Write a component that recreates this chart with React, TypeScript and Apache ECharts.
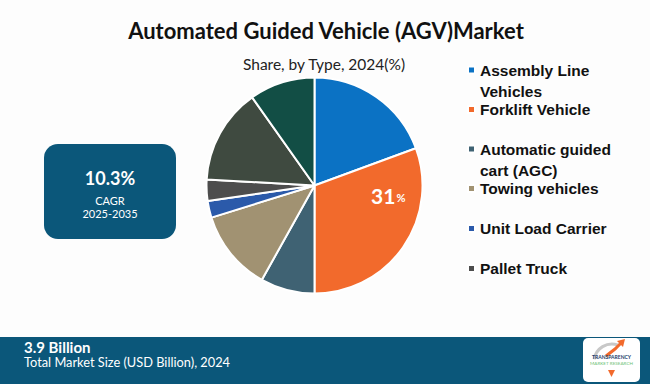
import React, { useEffect, useRef } from "react";
import * as echarts from "echarts";

const categories = [
  "Assembly Line Vehicles",
  "Forklift Vehicle",
  "Automatic guided cart (AGC)",
  "Towing vehicles",
  "Unit Load Carrier",
  "Pallet Truck",
  "Others A",
  "Others B",
];
const shares = [19.4, 30.6, 8.1, 12.1, 2.5, 3.2, 14.3, 9.8];
const colors = ["#0b72c4", "#f26a2c", "#3f6273", "#a19272", "#2b5aaa", "#4d4d4d", "#3f4a40", "#124e45"];
const legendLines = [
  ["Assembly Line", "Vehicles"],
  ["Forklift Vehicle"],
  ["Automatic guided", "cart (AGC)"],
  ["Towing vehicles"],
  ["Unit Load Carrier"],
  ["Pallet Truck"],
];
const legendCenters = [71.5, 111, 150.5, 190, 230, 270];
const labeledIndex = 1;

const titleText = "Automated Guided Vehicle (AGV)Market";
const subtitleText = "Share, by Type, 2024(%)";
const cagrValue = "10.3%";
const cagrLabel = "CAGR";
const cagrPeriod = "2025-2035";
const totalValue = "3.9 Billion";
const totalLabel = "Total Market Size (USD Billion), 2024";

const FONT = "Lato, 'Open Sans', sans-serif";
const LEGEND_FONT = "'Liberation Sans', Arial, sans-serif";
const LH_SMALL = 17;
const LH_FIRST = 26;

export default function App() {
  const ref = useRef<HTMLDivElement>(null);
  useEffect(() => {
    if (!ref.current) return;
    const chart = echarts.init(ref.current, null, { renderer: "svg" });
    const base = { fontFamily: LEGEND_FONT, fontSize: 15.5, fontWeight: "bold", color: "#111111" };
    const legends = legendLines.map((lines, i) => {
      const two = lines.length === 2;
      const half = two ? (LH_SMALL * 2 + LH_FIRST) / 2 : LH_SMALL / 2;
      return {
        orient: "vertical",
        left: 467,
        top: legendCenters[i] - 1.5 - half,
        padding: 0,
        itemWidth: 7,
        itemHeight: 7,
        itemGap: 8,
        icon: "rect",
        selectedMode: false,
        data: [categories[i]],
        formatter: () =>
          two ? `{e| }\n{a|${lines[0]}}\n{b|${lines[1]}}` : `{s|${lines[0]}}`,
        textStyle: {
          ...base,
          lineHeight: LH_SMALL,
          rich: {
            e: { ...base, lineHeight: LH_SMALL },
            a: { ...base, lineHeight: LH_FIRST },
            b: { ...base, lineHeight: LH_SMALL },
            s: { ...base, lineHeight: LH_SMALL },
          },
        },
      };
    });
    const band = "#0b577a";
    chart.setOption({
      animation: false,
      backgroundColor: "#fdfdfd",
      title: [
        {
          text: titleText,
          left: 321,
          textAlign: "center",
          top: 14,
          textStyle: { fontFamily: FONT, fontSize: 22, fontWeight: "bold", color: "#111111" },
        },
        {
          text: subtitleText,
          left: 319,
          textAlign: "center",
          top: 51,
          textStyle: { fontFamily: FONT, fontSize: 15.5, fontWeight: "normal", color: "#222222" },
        },
      ],
      legend: legends,
      series: [
        {
          type: "pie",
          center: [314.5, 185.5],
          radius: 108,
          startAngle: 90,
          clockwise: true,
          silent: true,
          itemStyle: { borderColor: "#ffffff", borderWidth: 2 },
          label: { show: false },
          labelLine: { show: false },
          labelLayout: { dx: 27, dy: -23 },
          data: categories.map((name, i) => ({
            name,
            value: shares[i],
            itemStyle: { color: colors[i] },
            label:
              i === labeledIndex
                ? {
                    show: true,
                    position: "inside",
                    formatter: (p: any) => `{a|${Math.round(p.value)}}{b|%}`,
                    rich: {
                      a: { fontFamily: FONT, fontSize: 21, fontWeight: "bold", color: "#ffffff" },
                      b: { fontFamily: FONT, fontSize: 11, fontWeight: "bold", color: "#ffffff", padding: [5, 0, 0, 1] },
                    },
                  }
                : { show: false },
          })),
        },
      ],
      graphic: [
        {
          type: "rect",
          shape: { x: 44, y: 144, width: 132, height: 95, r: 14 },
          style: { fill: band },
        },
        {
          type: "text",
          x: 110,
          y: 178,
          style: { text: cagrValue, fill: "#ffffff", font: `bold 18px ${FONT}`, align: "center", verticalAlign: "middle" },
        },
        {
          type: "text",
          x: 110,
          y: 200,
          style: { text: cagrLabel, fill: "#ffffff", font: `11px ${FONT}`, align: "center", verticalAlign: "middle" },
        },
        {
          type: "text",
          x: 110,
          y: 213,
          style: { text: cagrPeriod, fill: "#ffffff", font: `11px ${FONT}`, align: "center", verticalAlign: "middle" },
        },
        {
          type: "rect",
          shape: { x: 0, y: 337, width: 650, height: 47 },
          style: { fill: band },
        },
        {
          type: "text",
          x: 24,
          y: 346.5,
          style: { text: totalValue, fill: "#ffffff", font: `bold 15px ${FONT}`, align: "left", verticalAlign: "middle" },
        },
        {
          type: "text",
          x: 24,
          y: 362,
          style: { text: totalLabel, fill: "#ffffff", font: `12.8px ${FONT}`, align: "left", verticalAlign: "middle" },
        },
        {
          type: "rect",
          shape: { x: 583, y: 338, width: 57, height: 44, r: 5 },
          style: { fill: "#ffffff" },
        },
        {
          type: "arc",
          shape: { cx: 612, cy: 362, r: 18, startAngle: Math.PI * 1.05, endAngle: Math.PI * 1.6 },
          style: { stroke: "#c8c8c8", lineWidth: 3, fill: "none" },
        },
        {
          type: "polyline",
          shape: { points: [[606, 356], [615, 349], [621, 343]] },
          style: { stroke: "#f26a2c", lineWidth: 3, fill: "none" },
        },
        {
          type: "polygon",
          shape: { points: [[617, 341], [625, 339], [623, 347]] },
          style: { fill: "#f26a2c" },
        },
        {
          type: "text",
          x: 611.5,
          y: 357,
          style: { text: "TRANSPARENCY", fill: "#1b3d6b", font: `bold 5px ${FONT}`, align: "center", verticalAlign: "middle" },
        },
        {
          type: "text",
          x: 611.5,
          y: 363,
          style: { text: "MARKET RESEARCH", fill: "#6dbf73", font: `4.6px ${FONT}`, align: "center", verticalAlign: "middle" },
        },
        {
          type: "polygon",
          shape: { points: [[608, 370], [615, 370], [611.5, 377]] },
          style: { fill: "#f26a2c" },
        },
      ],
    });
    return () => chart.dispose();
  }, []);
  return (
    <div
      ref={ref}
      style={{ position: "absolute", left: 0, top: 0, width: 650, height: 384 }}
    />
  );
}
